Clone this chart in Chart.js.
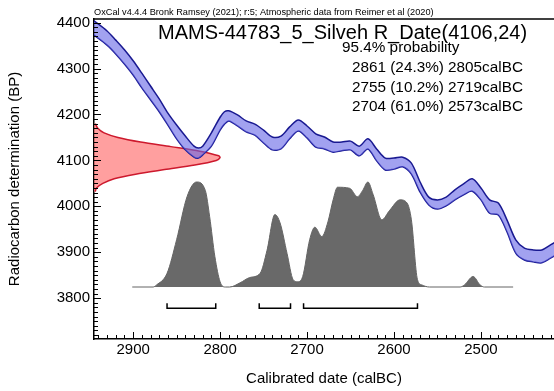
<!DOCTYPE html>
<html>
<head>
<meta charset="utf-8">
<script src="https://cdn.jsdelivr.net/npm/chart.js@4/dist/chart.umd.min.js"></script>
<style>
  body { margin: 0; background: #fff; }
  #wrap { width: 554px; height: 391px; }
</style>
</head>
<body>
<div id="wrap"><canvas id="canvas" width="554" height="391"></canvas></div>
<script>
// calibration curve band: calBC vs BP upper / lower edge
let curveCalBC = [2945, 2930, 2920, 2910, 2900, 2890, 2880, 2870, 2860, 2850, 2840, 2830, 2825, 2820, 2810,
  2800, 2795, 2790, 2780, 2770, 2760, 2750, 2740, 2730, 2720, 2710, 2700, 2690, 2680, 2670,
  2660, 2650, 2640, 2630, 2620, 2610, 2600, 2590, 2580, 2570, 2560, 2550, 2540, 2530, 2520,
  2510, 2500, 2490, 2480, 2470, 2460, 2450, 2440, 2430, 2420, 2410];
let curveUpper = [4404, 4382, 4362, 4341, 4317, 4290, 4262, 4234, 4203, 4177, 4153, 4131, 4127, 4131, 4160,
  4194, 4206, 4208, 4199, 4186, 4179, 4166, 4151, 4153, 4173, 4188, 4175, 4158, 4151, 4140,
  4140, 4142, 4131, 4147, 4125, 4105, 4105, 4107, 4094, 4053, 4020, 4014, 4020, 4036, 4049,
  4060, 4040, 4014, 4007, 3970, 3927, 3909, 3905, 3905, 3916, 3927];
let curveLower = [4373, 4351, 4332, 4310, 4286, 4258, 4232, 4206, 4177, 4147, 4123, 4107, 4105, 4112, 4131,
  4166, 4179, 4186, 4175, 4162, 4155, 4138, 4123, 4125, 4147, 4164, 4149, 4129, 4125, 4118,
  4121, 4123, 4110, 4125, 4099, 4079, 4081, 4086, 4070, 4031, 4003, 3994, 4001, 4014, 4025,
  4033, 4014, 3985, 3981, 3944, 3898, 3883, 3879, 3877, 3887, 3898];

// the radiocarbon measurement (red, on the BP axis)
let sampleTitle = 'MAMS-44783_5_Silveh R_Date(4106,24)';
let rDateBP = [4032, 4040, 4050, 4060, 4070, 4080, 4090, 4100, 4106, 4110, 4120, 4130, 4140, 4150, 4160, 4170, 4180];
let rDateProb = [0.01, 0.02, 0.07, 0.16, 0.33, 0.56, 0.80, 0.97, 1.0, 0.99, 0.84, 0.61, 0.37, 0.19, 0.08, 0.03, 0.01];

// calibrated distribution (grey)
let calDateCalBC = [2901, 2877, 2873, 2861, 2850, 2838, 2827, 2817, 2812, 2806, 2800, 2794, 2789, 2777, 2766,
  2754, 2746, 2737, 2731, 2723, 2716, 2711, 2705, 2697, 2691, 2683, 2676, 2670, 2665, 2651,
  2642, 2636, 2630, 2624, 2614, 2605, 2593, 2585, 2580, 2573, 2568, 2559, 2524, 2519, 2509,
  2501, 2496, 2463];
let calDateProb = [0, 0, 0.02, 0.13, 0.45, 0.86, 1.0, 0.92, 0.67, 0.29, 0.05, 0, 0, 0.04, 0.09,
  0.13, 0.35, 0.69, 0.61, 0.32, 0.07, 0.05, 0.10, 0.45, 0.57, 0.48, 0.62, 0.83, 0.95, 0.94,
  0.86, 0.92, 1.0, 0.88, 0.64, 0.73, 0.83, 0.80, 0.64, 0.07, 0.02, 0, 0, 0.02, 0.10,
  0.02, 0, 0];

// 95.4% ranges
let rangeFrom = [2861, 2755, 2704];
let rangeTo = [2805, 2719, 2573];
let rangePct = ['24.3', '10.2', '61.0'];

let xTicks = [2900, 2800, 2700, 2600, 2500];
let yTicks = [3800, 3900, 4000, 4100, 4200, 4300, 4400];

let headerText = 'OxCal v4.4.4 Bronk Ramsey (2021); r:5; Atmospheric data from Reimer et al (2020)';
let font = '"Liberation Sans", Arial, Helvetica, sans-serif';

// datasets
let datasets = [];

// calibration curve, upper edge filled down to lower edge
datasets.push({
  data: curveCalBC.map((c, i) => ({x: c, y: curveUpper[i]})),
  borderColor: 'rgb(25,25,145)',
  borderWidth: 1.5,
  backgroundColor: 'rgba(100,100,230,0.6)',
  fill: '+1',
  tension: 0.3,
  pointRadius: 0
});
datasets.push({
  data: curveCalBC.map((c, i) => ({x: c, y: curveLower[i]})),
  borderColor: 'rgb(25,25,145)',
  borderWidth: 1.5,
  fill: false,
  tension: 0.3,
  pointRadius: 0
});

// red measurement, drawn sideways from the left axis
datasets.push({
  indexAxis: 'y',
  xAxisID: 'xr',
  data: rDateBP.map((b, i) => ({x: rDateProb[i], y: b})),
  borderColor: 'rgb(205,25,45)',
  borderWidth: 1.5,
  backgroundColor: 'rgba(255,95,95,0.6)',
  fill: 'origin',
  tension: 0.3,
  pointRadius: 0
});

// grey calibrated distribution
datasets.push({
  yAxisID: 'yp',
  data: calDateCalBC.map((c, i) => ({x: c, y: calDateProb[i]})),
  borderColor: 'rgb(100,100,100)',
  borderWidth: 1,
  backgroundColor: 'rgb(105,105,105)',
  fill: 'origin',
  cubicInterpolationMode: 'monotone',
  pointRadius: 0
});

// range brackets under the distribution
for (let i = 0; i < rangeFrom.length; i++) {
  datasets.push({
    data: [
      {x: rangeFrom[i], y: 3789}, {x: rangeFrom[i], y: 3778},
      {x: rangeTo[i], y: 3778}, {x: rangeTo[i], y: 3789}
    ],
    borderColor: '#000',
    borderWidth: 1.5,
    fill: false,
    tension: 0,
    pointRadius: 0
  });
}

// inward tick marks, top frame line and the OxCal text block
let extras = {
  id: 'extras',
  afterDraw(chart) {
    let ctx = chart.ctx;
    let a = chart.chartArea;
    let x = chart.scales.x;
    let y = chart.scales.y;
    ctx.save();
    ctx.fillStyle = '#000';
    // x ticks pointing up into the plot
    for (let v = 2420; v <= 2940; v += 10) {
      let px = Math.round(x.getPixelForValue(v));
      let len = v % 100 === 0 ? 7 : 4;
      ctx.fillRect(px, a.bottom - len, 1, len);
    }
    // y ticks pointing right into the plot
    for (let v = 3720; v <= 4400; v += 10) {
      let py = Math.round(y.getPixelForValue(v));
      let len = v % 100 === 0 ? 7 : 4;
      ctx.fillRect(a.left, py, len, 1);
    }

    ctx.strokeStyle = '#000';
    ctx.lineWidth = 1.5;
    ctx.beginPath();
    ctx.moveTo(a.left, a.top);
    ctx.lineTo(a.right, a.top);
    ctx.stroke();

    ctx.textAlign = 'left';
    ctx.textBaseline = 'alphabetic';
    ctx.font = '9.2px ' + font;
    ctx.fillText(headerText, 94, 15);

    ctx.textBaseline = 'middle';
    ctx.font = '20px ' + font;
    ctx.fillText(sampleTitle, 158, 33);
    ctx.font = '15.3px ' + font;
    ctx.fillText('95.4% probability', 342, 48);
    let rowY = [68, 87.5, 107];
    for (let i = 0; i < rangeFrom.length; i++) {
      ctx.fillText(rangeFrom[i] + ' (' + rangePct[i] + '%) ' + rangeTo[i] + 'calBC', 352, rowY[i]);
    }
    ctx.restore();
  }
};

let plainNum = v => String(v);

let options = {
  type: 'line',
  data: {datasets: datasets},
  options: {
    responsive: false,
    animation: false,
    layout: {padding: {top: 19, right: 0, bottom: 0, left: 0}},
    plugins: {legend: {display: false}, tooltip: {enabled: false}},
    scales: {
      x: {
        type: 'linear',
        reverse: true,
        min: 2416,
        max: 2945,
        afterBuildTicks: s => { s.ticks = xTicks.map(v => ({value: v})); },
        afterFit: s => { s.height = 52; },
        grid: {display: false, drawTicks: false},
        border: {display: true, color: '#000', width: 1.5},
        ticks: {color: '#000', font: {family: font, size: 15}, padding: 2, maxRotation: 0, autoSkip: false,
          callback: plainNum},
        title: {display: true, text: 'Calibrated date (calBC)', color: '#000',
          font: {family: font, size: 15}, padding: {top: 0, bottom: 3}}
      },
      y: {
        type: 'linear',
        min: 3711,
        max: 4408,
        afterBuildTicks: s => { s.ticks = yTicks.map(v => ({value: v})); },
        afterFit: s => { s.width = 94; },
        grid: {display: false, drawTicks: false},
        border: {display: true, color: '#000', width: 1.5},
        ticks: {color: '#000', font: {family: font, size: 15}, padding: 4, callback: plainNum},
        title: {display: true, text: 'Radiocarbon determination (BP)', color: '#000',
          font: {family: font, size: 15}, padding: {top: 6, bottom: 0}}
      },
      // hidden helper axes for the two probability shapes
      xr: {type: 'linear', display: false, position: 'top', min: 0, max: 3.65},
      yp: {type: 'linear', display: false, position: 'right', min: -0.495, max: 2.552}
    }
  },
  plugins: [extras]
};

let chart = new Chart(document.getElementById('canvas'), options);
</script>
</body>
</html>
